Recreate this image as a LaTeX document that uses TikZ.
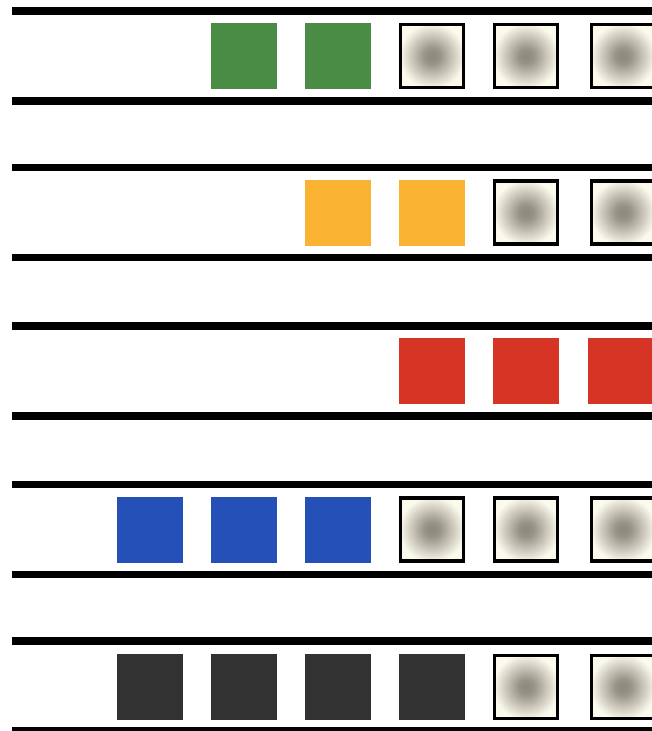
\documentclass[tikz,border=0pt]{standalone}
\usetikzlibrary{positioning}

\definecolor{leafgreen}{RGB}{74,140,70}
\definecolor{amber}{RGB}{250,178,50}
\definecolor{signalred}{RGB}{214,52,36}
\definecolor{royalblue}{RGB}{36,80,184}
\definecolor{charcoal}{RGB}{50,50,50}
\definecolor{dotgray}{RGB}{140,136,124}
\definecolor{dotcream}{RGB}{252,250,236}

% soft grey blob
\pgfdeclareradialshading{blob}{\pgfpoint{0bp}{0bp}}{%
    color(0bp)=(dotgray);
    color(6bp)=(dotgray!90!dotcream);
    color(16bp)=(dotgray!45!dotcream);
    color(26bp)=(dotcream);
    color(50bp)=(dotcream)}

\tikzset{
    rail/.style={line width=6.8pt},
    colsq/.style={minimum size=1.98cm, inner sep=0pt, outer sep=0pt, fill=#1},
    dotsq/.style={minimum size=1.89cm, inner sep=0pt, outer sep=0pt,
        draw=black, line width=2.6pt, shading=blob}
}

\begin{document}
\begin{tikzpicture}[x=0.03cm, y=-0.03cm]

\useasboundingbox (0,0) rectangle (652,731);

% Rails
\foreach \r in {56,212.5,371,529.5,686} {
    \draw[rail] (12,\r-45) -- (670,\r-45);
    \draw[rail] (12,\r+45) -- (670,\r+45);
}

% Row 1: green
\foreach \x [count=\i] in {244,338} {
    \node[colsq=leafgreen] (g\i) at (\x,56) {};
}
\foreach \x [count=\i] in {432,526,623} {
    \node[dotsq] (gd\i) at (\x,56) {};
}

% Row 2: orange
\foreach \x [count=\i] in {338,432} {
    \node[colsq=amber] (o\i) at (\x,212.5) {};
}
\foreach \x [count=\i] in {526,623} {
    \node[dotsq] (od\i) at (\x,212.5) {};
}

% Row 3: red
\foreach \x [count=\i] in {432,526,621} {
    \node[colsq=signalred] (r\i) at (\x,371) {};
}

% Row 4: blue
\foreach \x [count=\i] in {150,244,338} {
    \node[colsq=royalblue] (b\i) at (\x,529.5) {};
}
\foreach \x [count=\i] in {432,526,623} {
    \node[dotsq] (bd\i) at (\x,529.5) {};
}

% Row 5: dark
\foreach \x [count=\i] in {150,244,338,432} {
    \node[colsq=charcoal] (k\i) at (\x,687) {};
}
\foreach \x [count=\i] in {526,623} {
    \node[dotsq] (kd\i) at (\x,687) {};
}

\end{tikzpicture}
\end{document}
